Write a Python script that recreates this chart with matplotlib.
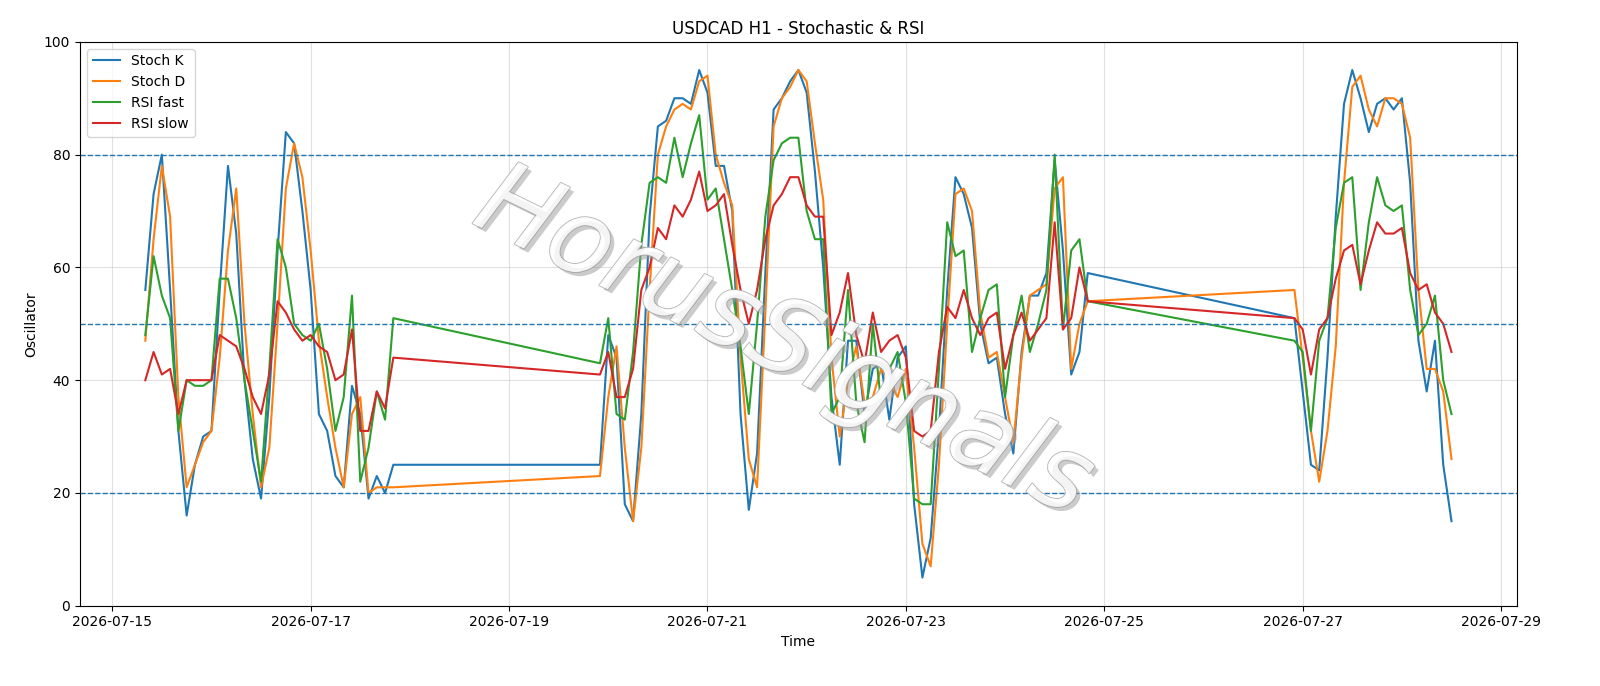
import matplotlib
matplotlib.use("Agg")
import matplotlib.pyplot as plt
import matplotlib.dates as mdates
import matplotlib.patheffects as pe
import pandas as pd

# Segment 1: 2026-07-15 08:00, every 2 h
seg1_start = "2026-07-15 08:00"
k1 = [56,73,80,56,31,16,25,30,31,56,78,66,40,26,19,37,63,84,82,70,56,34,31,23,21,39,34,19,23,20,25]
d1 = [47,65,78,69,37,21,25,29,31,44,63,74,50,34,21,28,50,74,82,76,63,47,37,28,21,34,37,20,21,21,21]
f1 = [48,62,55,51,31,40,39,39,40,58,58,51,40,31,22,42,65,60,50,48,47,50,42,31,37,55,22,28,38,33,51]
s1 = [40,45,41,42,34,40,40,40,40,48,47,46,42,37,34,41,54,52,49,47,48,46,45,40,41,49,31,31,38,35,44]

# Segment 2: 2026-07-19 22:00, every 2 h
seg2_start = "2026-07-19 22:00"
k2 = [25,48,44,18,15,34,69,85,86,90,90,89,95,91,78,78,70,34,17,27,59,88,90,93,95,91,77,
      60,37,25,47,47,34,42,43,33,44,46,18,5,12,31,56,76,73,67,50,43,44,34,27,45,55,55,59,79,63,41,45,59]
d2 = [23,37,46,28,15,28,56,80,85,88,89,88,93,94,80,75,71,44,26,21,52,85,90,92,95,93,82,
      72,44,30,40,46,36,37,42,40,37,42,28,11,7,25,50,73,74,70,52,44,45,37,29,44,55,56,57,74,76,42,50,54]
f2 = [43,51,34,33,45,64,75,76,75,83,76,82,87,72,74,65,56,46,34,50,69,79,82,83,83,70,65,
      65,34,37,56,36,29,50,36,42,45,36,19,18,18,42,68,62,63,45,51,56,57,37,48,55,45,50,56,80,49,63,65,54]
s2 = [41,45,37,37,42,56,60,67,65,71,69,72,77,70,71,73,64,56,50,56,65,71,73,76,76,71,69,
      69,48,52,59,48,43,52,45,47,48,44,31,30,31,45,53,51,56,51,48,51,52,42,48,52,47,49,51,68,49,51,60,54]

# Segment 3: 2026-07-26 22:00, every 2 h
seg3_start = "2026-07-26 22:00"
k3 = [51,38,25,24,44,69,89,95,90,84,89,90,88,90,75,47,38,47,25,15]
d3 = [56,44,31,22,31,46,75,92,94,88,85,90,90,89,83,56,42,42,38,26]
f3 = [47,45,31,47,51,67,75,76,56,68,76,71,70,71,56,48,50,55,40,34]
s3 = [51,49,41,49,51,58,63,64,57,63,68,66,66,67,59,56,57,52,50,45]

def times(start, n):
    return list(pd.date_range(start, periods=n, freq="2h"))

t = times(seg1_start, len(k1)) + times(seg2_start, len(k2)) + times(seg3_start, len(k3))
K = k1 + k2 + k3
D = d1 + d2 + d3
F = f1 + f2 + f3
S = s1 + s2 + s3

fig, ax = plt.subplots(figsize=(16, 6.86), dpi=100)
fig.subplots_adjust(left=0.05, right=0.948, top=0.939, bottom=0.117)

ax.plot(t, K, color="#1f77b4", lw=1.5, label="Stoch K")
ax.plot(t, D, color="#ff7f0e", lw=1.5, label="Stoch D")
ax.plot(t, F, color="#2ca02c", lw=1.5, label="RSI fast")
ax.plot(t, S, color="#d62728", lw=1.5, label="RSI slow")
for lvl in [80, 50, 20]:
    ax.axhline(lvl, color="#1f77b4", ls="--", lw=1)

ax.set_ylim(0, 100)
ax.xaxis.set_major_locator(mdates.DayLocator(bymonthday=[1,3,5,7,9,11,13,15,17,19,21,23,25,27,29]))
ax.xaxis.set_major_formatter(mdates.DateFormatter("%Y-%m-%d"))
ax.grid(True, color="#cccccc", alpha=0.6, lw=0.8)
ax.set_title("USDCAD H1 - Stochastic & RSI")
ax.set_xlabel("Time")
ax.set_ylabel("Oscillator")
ax.legend(loc="upper left")

fig.text(0.49, 0.50, "HorusSignals", fontsize=74, style="italic", color="white",
         rotation=-26, ha="center", va="center", zorder=0, alpha=0.8,
         path_effects=[pe.withStroke(linewidth=1.5, foreground="#aaaaaa"),
                       pe.SimplePatchShadow(offset=(3, -3), shadow_rgbFace="#999999", alpha=0.5),
                       pe.Normal()])

fig.savefig("out.png", dpi=100)
